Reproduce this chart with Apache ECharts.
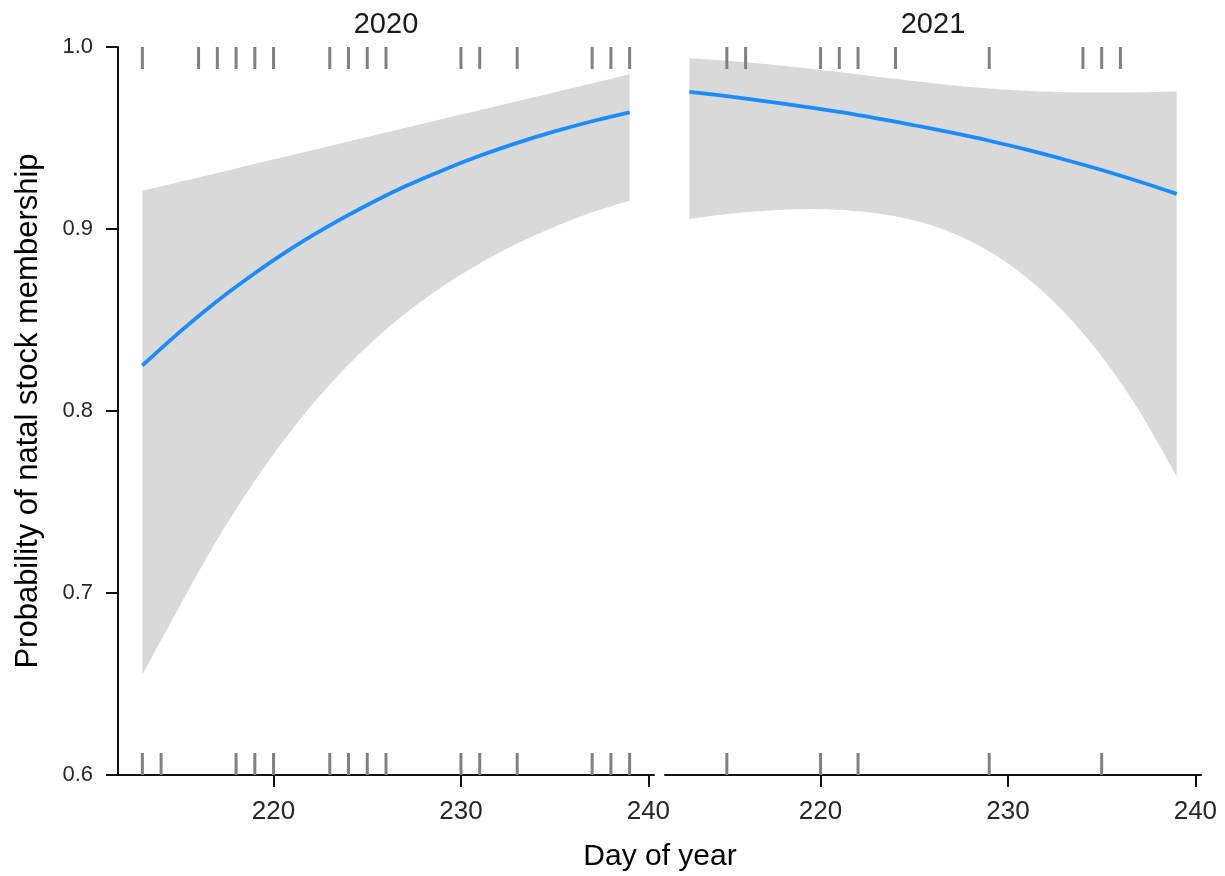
<!DOCTYPE html>
<html><head><meta charset="utf-8">
<script src="https://cdn.jsdelivr.net/npm/echarts@6/dist/echarts.min.js"></script>
<style>html,body{margin:0;padding:0;background:#fff}#c{width:1225px;height:876px}</style>
</head><body><div id="c"></div>
<script>
// ---- data ----
const panels = ['2020', '2021'];
const days = [213, 215, 217, 219, 221, 223, 225, 227, 229, 231, 233, 235, 237, 239];
const fit2020   = [0.825, 0.8435, 0.8605, 0.8757, 0.8896, 0.9020, 0.9132, 0.9233, 0.9322, 0.9402, 0.9473, 0.9536, 0.9592, 0.9641];
const lower2020 = [0.655, 0.693, 0.7295, 0.7617, 0.790, 0.8146, 0.8355, 0.8533, 0.8683, 0.8811, 0.8920, 0.9012, 0.9092, 0.9155];
const upper2020 = [0.921, 0.9259, 0.9308, 0.9358, 0.9407, 0.9456, 0.9505, 0.9555, 0.9604, 0.9653, 0.9702, 0.9751, 0.9801, 0.9850];
const fit2021   = [0.9754, 0.9730, 0.9703, 0.9674, 0.9643, 0.9608, 0.9570, 0.9529, 0.9485, 0.9436, 0.9382, 0.9324, 0.9261, 0.9193];
const lower2021 = [0.9055, 0.9082, 0.9100, 0.9109, 0.9105, 0.9086, 0.9047, 0.8980, 0.8877, 0.8733, 0.8542, 0.8300, 0.8001, 0.7641];
const upper2021 = [0.9939, 0.9924, 0.9907, 0.9886, 0.9862, 0.9837, 0.9813, 0.9790, 0.9772, 0.9759, 0.9752, 0.9750, 0.9751, 0.9756];
const rugTop2020    = [213, 216, 217, 218, 219, 220, 223, 224, 225, 226, 230, 231, 233, 237, 238, 239];
const rugBottom2020 = [213, 214, 218, 219, 220, 223, 224, 225, 226, 230, 231, 233, 237, 238, 239];
const rugTop2021    = [215, 216, 220, 221, 222, 224, 229, 234, 235, 236];
const rugBottom2021 = [215, 220, 222, 229, 235];
const xTicks = [220, 230, 240];
const yTicks = [0.6, 0.7, 0.8, 0.9, 1.0];
const xTitle = 'Day of year';
const yTitle = 'Probability of natal stock membership';

// ---- chart ----
const FONT = "'Liberation Sans', Arial, Helvetica, sans-serif";
const AX = '#111';
const zip = (xs, ys) => xs.map((x, i) => [x, ys[i]]);

function xAxisOf(gi) {
  return {
    type: 'value', gridIndex: gi, min: 211.7, max: 240.3,
    axisLine: { show: true, onZero: false, lineStyle: { color: AX, width: 2 } },
    axisTick: { show: true, length: 12, customValues: xTicks, lineStyle: { color: AX, width: 2 } },
    axisLabel: { customValues: xTicks, margin: 24, fontSize: 26, color: '#262626', fontFamily: FONT },
    splitLine: { show: false }
  };
}
function yAxisOf(gi, show) {
  return {
    type: 'value', gridIndex: gi, min: 0.6, max: 1.0, interval: 0.1, show: show,
    axisLine: { show: true, onZero: false, lineStyle: { color: AX, width: 2 } },
    axisTick: { show: true, length: 12, customValues: yTicks, lineStyle: { color: AX, width: 2 } },
    axisLabel: { customValues: yTicks, margin: 25, fontSize: 22, color: '#262626', fontFamily: FONT,
                 formatter: v => (+v).toFixed(1) },
    splitLine: { show: false }
  };
}
function rugRender(len) {
  return function (params, api) {
    const p = api.coord([api.value(0), api.value(1)]);
    return { type: 'line', shape: { x1: p[0], y1: p[1], x2: p[0], y2: p[1] + len },
             style: { stroke: '#808080', lineWidth: 3 } };
  };
}
// Catmull-Rom sampling in pixel space (only for drawing a smooth ribbon edge)
function smoothPts(pts) {
  const out = [pts[0]];
  for (let i = 0; i < pts.length - 1; i++) {
    const p0 = pts[i - 1] || pts[i], p1 = pts[i], p2 = pts[i + 1], p3 = pts[i + 2] || pts[i + 1];
    for (let k = 1; k <= 12; k++) {
      const t = k / 12, t2 = t * t, t3 = t2 * t;
      const f = (a, b, c, d) => 0.5 * ((2 * b) + (-a + c) * t + (2 * a - 5 * b + 4 * c - d) * t2 + (-a + 3 * b - 3 * c + d) * t3);
      out.push([f(p0[0], p1[0], p2[0], p3[0]), f(p0[1], p1[1], p2[1], p3[1])]);
    }
  }
  return out;
}
function bandRender(lower, upper) {
  return function (params, api) {
    if (params.dataIndex !== 0) return null;
    const up = days.map((d, i) => api.coord([d, upper[i]]));
    const lo = days.map((d, i) => api.coord([d, lower[i]]));
    const pts = smoothPts(up).concat(smoothPts(lo.slice().reverse()));
    return { type: 'polygon', shape: { points: pts }, style: { fill: '#d9d9d9' } };
  };
}
function panelSeries(gi, fit, lower, upper, rugTop, rugBottom) {
  return [
    { type: 'custom', xAxisIndex: gi, yAxisIndex: gi, data: days.map((d, i) => [d, lower[i], upper[i]]),
      renderItem: bandRender(lower, upper), silent: true, z: 1 },
    { type: 'line', xAxisIndex: gi, yAxisIndex: gi, data: zip(days, fit), smooth: 0.35,
      symbol: 'none', silent: true, lineStyle: { color: '#1a8cff', width: 3.8 }, z: 3 },
    { type: 'custom', xAxisIndex: gi, yAxisIndex: gi, data: rugTop.map(d => [d, 1.0]),
      renderItem: rugRender(22), silent: true, z: 4 },
    { type: 'custom', xAxisIndex: gi, yAxisIndex: gi, data: rugBottom.map(d => [d, 0.6]),
      renderItem: rugRender(-22), silent: true, z: 4 }
  ];
}

const chart = echarts.init(document.getElementById('c'), null, { renderer: 'canvas' });
chart.setOption({
  animation: false,
  backgroundColor: '#ffffff',
  grid: [
    { left: 118, top: 47, width: 536, height: 728 },
    { left: 665, top: 47, width: 536, height: 728 }
  ],
  xAxis: [xAxisOf(0), xAxisOf(1)],
  yAxis: [yAxisOf(0, true), yAxisOf(1, false)],
  graphic: [
    { type: 'text', x: 386, y: 25, style: { text: panels[0], textAlign: 'center', textVerticalAlign: 'middle',
      font: '29px ' + FONT, fill: '#1a1a1a' } },
    { type: 'text', x: 933, y: 25, style: { text: panels[1], textAlign: 'center', textVerticalAlign: 'middle',
      font: '29px ' + FONT, fill: '#1a1a1a' } },
    { type: 'text', x: 660, y: 857, style: { text: xTitle, textAlign: 'center', textVerticalAlign: 'middle',
      font: '30px ' + FONT, fill: '#000' } },
    { type: 'text', x: 28, y: 411, rotation: Math.PI / 2, style: { text: yTitle, textAlign: 'center',
      textVerticalAlign: 'middle', font: '31px ' + FONT, fill: '#000' } }
  ],
  series: [
    ...panelSeries(0, fit2020, lower2020, upper2020, rugTop2020, rugBottom2020),
    ...panelSeries(1, fit2021, lower2021, upper2021, rugTop2021, rugBottom2021)
  ]
});
</script>
</body></html>
